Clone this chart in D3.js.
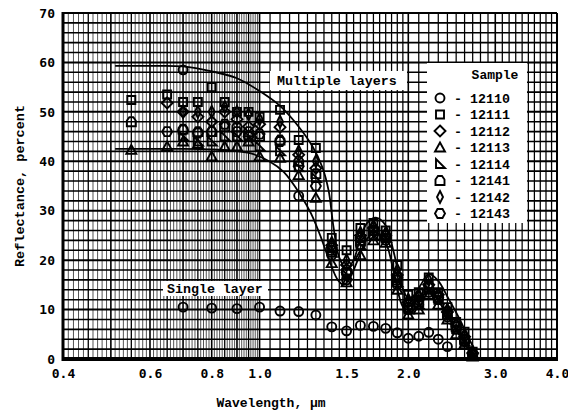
<!DOCTYPE html>
<html><head><meta charset="utf-8">
<script src="https://cdn.jsdelivr.net/npm/d3@7"></script>
<style>body{margin:0;background:#fff}svg{display:block}</style>
</head><body>
<svg id="c" width="568" height="411"></svg>
<script>
// ---- data ----
const xTicks = [0.4, 0.6, 0.8, 1.0, 1.5, 2.0, 3.0, 4.0];
const xTickLabels = ["0.4", "0.6", "0.8", "1.0", "1.5", "2.0", "3.0", "4.0"];
const yTicks = [0, 10, 20, 30, 40, 50, 60, 70];

const upperCurveX = [0.51, 0.6, 0.7, 0.8, 0.9, 1.0, 1.1, 1.2, 1.28, 1.34, 1.38, 1.41, 1.45, 1.5, 1.55, 1.6, 1.65, 1.72, 1.8, 1.87, 1.93, 2.0, 2.06, 2.12, 2.2, 2.3, 2.4, 2.5, 2.6, 2.7, 2.77];
const upperCurveY = [59.3, 59.3, 59.2, 58.2, 56.8, 54.2, 51.2, 47.0, 43.0, 38.8, 34.0, 27.0, 20.5, 18.2, 20.0, 24.5, 27.5, 28.6, 27.0, 21.5, 15.5, 12.3, 13.0, 15.0, 17.2, 15.8, 12.6, 9.4, 6.0, 2.6, 0.0];

const lowerCurveX = [0.51, 0.6, 0.7, 0.8, 0.87, 0.96, 1.05, 1.12, 1.21, 1.27, 1.33, 1.39, 1.44, 1.48, 1.52, 1.58, 1.65, 1.72, 1.8, 1.87, 1.94, 2.0, 2.08, 2.15, 2.2, 2.28, 2.4, 2.5, 2.6, 2.72];
const lowerCurveY = [42.5, 42.5, 42.5, 42.4, 42.2, 41.6, 39.9, 37.8, 33.2, 29.5, 24.7, 19.4, 16.0, 15.0, 16.2, 20.0, 24.3, 25.5, 23.5, 17.5, 11.0, 9.2, 10.6, 13.0, 14.0, 12.6, 8.6, 6.0, 3.2, 0.0];

const singleX = [0.7, 0.8, 0.9, 1.0, 1.1, 1.2, 1.3, 1.4, 1.5, 1.6, 1.7, 1.8, 1.9, 2.0, 2.1, 2.2, 2.3, 2.4];
const singleY = [10.5, 10.3, 10.2, 10.5, 9.7, 9.6, 8.9, 6.5, 5.7, 6.8, 6.6, 6.2, 5.3, 4.2, 4.6, 5.4, 4.0, 2.5];

const multiX = [0.55, 0.65, 0.7, 0.75, 0.8, 0.85, 0.9, 0.95, 1.0, 1.1, 1.2, 1.3, 1.4, 1.5, 1.6, 1.7, 1.8, 1.9, 2.0, 2.1, 2.2, 2.3, 2.4, 2.5, 2.6, 2.7];
const s12110 = [null, null, 58.5, null, null, null, null, null, null, null, 33.0, null, 21.0, 16.0, 23.0, 25.0, 24.0, 15.0, 10.0, 11.0, 13.5, 12.0, 8.5, 6.0, 3.5, 0.8];
const s12111 = [52.4, 53.5, 52.0, 52.0, 55.0, 52.0, 50.0, 50.0, 49.0, 50.4, 44.3, 42.7, 24.5, 22.0, 26.5, 27.5, 26.0, 19.0, 13.0, 13.5, 16.5, 13.5, 10.5, 7.5, 5.5, 1.5];
const s12112 = [null, 51.8, 50.0, 49.0, 48.0, 50.0, 48.5, 47.0, 47.5, 46.9, 41.3, 38.6, 23.0, 19.0, 25.0, 26.5, 25.0, 17.0, 11.5, 12.5, 15.0, 13.0, 9.5, 7.0, 4.5, 1.2];
const s12113 = [42.3, 43.0, 44.0, 43.5, 41.0, 43.0, 43.0, 44.0, 41.0, 40.7, 37.2, 32.6, 19.4, 15.5, 21.0, 24.0, 23.5, 14.0, 9.0, 10.0, 13.0, 11.0, 8.0, 5.0, 3.0, 0.5];
const s12114 = [null, null, 45.0, 44.0, 44.0, 45.0, 45.0, 45.0, 43.0, 42.0, 38.8, 36.6, 21.5, 17.0, 23.0, 25.0, 24.5, 15.5, 10.0, 11.0, 14.0, 12.0, 9.0, 6.0, 3.5, 1.0];
const s12141 = [48.0, null, 46.5, 46.0, 46.0, 47.0, 47.0, 46.0, 45.0, 44.3, 40.0, 37.5, 22.0, 18.0, 24.0, 26.0, 25.0, 16.0, 10.5, 11.5, 14.5, 12.5, 9.0, 6.5, 4.0, 1.0];
const s12142 = [null, null, 50.0, 50.0, 50.0, 51.0, 50.0, 49.5, 48.5, 48.0, 42.0, 40.0, 23.5, 20.0, 25.5, 27.0, 25.5, 18.0, 12.0, 13.0, 16.0, 13.0, 10.0, 7.0, 5.0, 1.5];
const s12143 = [null, 46.0, 46.3, 45.7, 46.0, 47.5, 46.0, 45.0, 45.5, 44.0, 39.0, 35.0, 22.5, 17.5, 24.5, 26.0, 24.5, 16.5, 11.0, 12.0, 15.0, 12.5, 9.5, 6.5, 4.0, 1.0];

const sampleNames = ["12110", "12111", "12112", "12113", "12114", "12141", "12142", "12143"];
const sampleShapes = ["circle", "square", "diamond", "triangle", "rtriangle", "house", "thindiamond", "hexagon"];
const sampleValues = [s12110, s12111, s12112, s12113, s12114, s12141, s12142, s12143];

// ---- layout ----
const svg = d3.select("#c");
const L = 63, R = 557, T = 13, B = 359;
const x = d3.scaleLog().domain([0.4, 4.0]).range([L, R]);
const y = d3.scaleLinear().domain([0, 70]).range([B, T]);
const mono = "'Liberation Mono', 'DejaVu Sans Mono', monospace";
const tickFont = "'DejaVu Sans Mono', monospace";

// grid
const g = svg.append("g");
const vMinor = [];
for (let i = 40; i <= 100; i++) vMinor.push({v: i / 100, w: (i % 10 === 0) ? 1.6 : (i % 5 === 0 ? 1.3 : 0.9), o: (i % 5 === 0) ? 1 : 0.75});
for (let i = 21; i <= 40; i++) vMinor.push({v: i / 20, w: (i % 10 === 0) ? 1.6 : 1.25, o: 1});
for (let i = 21; i <= 40; i++) vMinor.push({v: i / 10, w: (i % 10 === 0) ? 1.6 : 1.25, o: 1});
g.selectAll("line.v").data(vMinor).join("line")
  .attr("x1", d => x(d.v)).attr("x2", d => x(d.v))
  .attr("y1", T).attr("y2", B)
  .attr("stroke", "#000").attr("stroke-width", d => d.w).attr("stroke-opacity", d => d.o);
const hLines = d3.range(0, 71, 2);
g.selectAll("line.h").data(hLines).join("line")
  .attr("x1", L).attr("x2", R)
  .attr("y1", d => y(d)).attr("y2", d => y(d))
  .attr("stroke", "#000").attr("stroke-width", d => d % 10 === 0 ? 2 : 1.6);

// frame
svg.append("line").attr("x1", L).attr("x2", L).attr("y1", T - 1).attr("y2", B + 2).attr("stroke", "#000").attr("stroke-width", 3);
svg.append("line").attr("x1", L - 1).attr("x2", R + 1).attr("y1", B).attr("y2", B).attr("stroke", "#000").attr("stroke-width", 4);
svg.append("line").attr("x1", L).attr("x2", R).attr("y1", T).attr("y2", T).attr("stroke", "#000").attr("stroke-width", 2);
svg.append("line").attr("x1", R).attr("x2", R).attr("y1", T).attr("y2", B).attr("stroke", "#000").attr("stroke-width", 2);

// axes labels
const xAxis = d3.axisBottom(x).tickValues(xTicks).tickFormat((d, i) => xTickLabels[i]).tickSize(0).tickPadding(8);
const xa = svg.append("g").attr("transform", `translate(0,${B + 2})`).call(xAxis);
xa.select(".domain").remove();
xa.selectAll("text").attr("font-family", tickFont).attr("font-size", 13).attr("font-weight", "bold").attr("fill", "#000");
const yAxis = d3.axisLeft(y).tickValues(yTicks).tickSize(0).tickPadding(7);
const ya = svg.append("g").attr("transform", `translate(${L - 1},0)`).call(yAxis);
ya.select(".domain").remove();
ya.selectAll("text").attr("font-family", tickFont).attr("font-size", 13).attr("font-weight", "bold").attr("fill", "#000");

svg.append("text").attr("x", 271).attr("y", 407).attr("text-anchor", "middle")
  .attr("font-family", mono).attr("font-weight", "bold").attr("font-size", 13).text("Wavelength, μm");
svg.append("text").attr("transform", "translate(24,186) rotate(-90)").attr("text-anchor", "middle")
  .attr("font-family", mono).attr("font-weight", "bold").attr("font-size", 13.5).text("Reflectance, percent");

// label boxes
function box(x0, y0, w, h) {
  svg.append("rect").attr("x", x0).attr("y", y0).attr("width", w).attr("height", h).attr("fill", "#fff");
}
box(270, 71, 137, 19);
svg.append("text").attr("x", 277).attr("y", 84.5).attr("font-family", mono).attr("font-weight", "bold").attr("font-size", 13.3).text("Multiple layers");
box(163, 281, 105, 15);
svg.append("text").attr("x", 167).attr("y", 292.5).attr("font-family", mono).attr("font-weight", "bold").attr("font-size", 13.3).text("Single layer");

// curves
const line = d3.line().x(d => x(d[0])).y(d => y(d[1])).curve(d3.curveCatmullRom.alpha(0.5));
svg.append("path").attr("d", line(d3.zip(upperCurveX, upperCurveY))).attr("fill", "none").attr("stroke", "#000").attr("stroke-width", 1.8);
svg.append("path").attr("d", line(d3.zip(lowerCurveX, lowerCurveY))).attr("fill", "none").attr("stroke", "#000").attr("stroke-width", 1.8);

// symbols
function shapePath(t) {
  const pts = {
    square: [[-4, -4], [4, -4], [4, 4], [-4, 4]],
    diamond: [[0, -5.5], [5.5, 0], [0, 5.5], [-5.5, 0]],
    triangle: [[0, -5], [5, 4], [-5, 4]],
    rtriangle: [[-4, -5], [-4, 4], [5, 4]],
    house: [[-4.5, 4.5], [4.5, 4.5], [4.5, -1], [2, -4.5], [-2, -4.5], [-4.5, -1]],
    thindiamond: [[0, -6], [3, 0], [0, 6], [-3, 0]],
    hexagon: [[-5, 0], [-2.5, -4.5], [2.5, -4.5], [5, 0], [2.5, 4.5], [-2.5, 4.5]]
  }[t];
  if (!pts) return "M-4.5,0a4.5,4.5 0 1,0 9,0a4.5,4.5 0 1,0 -9,0Z";
  return "M" + pts.map(p => p.join(",")).join("L") + "Z";
}
const pts = [];
sampleValues.forEach((vals, si) => vals.forEach((v, i) => { if (v !== null) pts.push({x: multiX[i], y: v, s: sampleShapes[si]}); }));
singleX.forEach((xv, i) => pts.push({x: xv, y: singleY[i], s: "circle"}));
svg.append("g").selectAll("path").data(pts).join("path")
  .attr("transform", d => `translate(${x(d.x)},${y(d.y)})`)
  .attr("d", d => shapePath(d.s))
  .attr("fill", "none").attr("stroke", "#000").attr("stroke-width", 1.9);

// legend
box(427, 63, 100, 160);
svg.append("text").attr("x", 495).attr("y", 79).attr("text-anchor", "middle").attr("font-family", mono).attr("font-weight", "bold").attr("font-size", 13).text("Sample");
const lg = svg.append("g").selectAll("g").data(sampleNames).join("g")
  .attr("transform", (d, i) => `translate(0,${98 + i * 16.5})`);
lg.append("path").attr("transform", "translate(440,0)").attr("d", (d, i) => shapePath(sampleShapes[i]))
  .attr("fill", "none").attr("stroke", "#000").attr("stroke-width", 1.9);
lg.append("text").attr("x", 454).attr("y", 4.5).attr("font-family", mono).attr("font-weight", "bold").attr("font-size", 13.3).text(d => "- " + d);
</script>
</body></html>
